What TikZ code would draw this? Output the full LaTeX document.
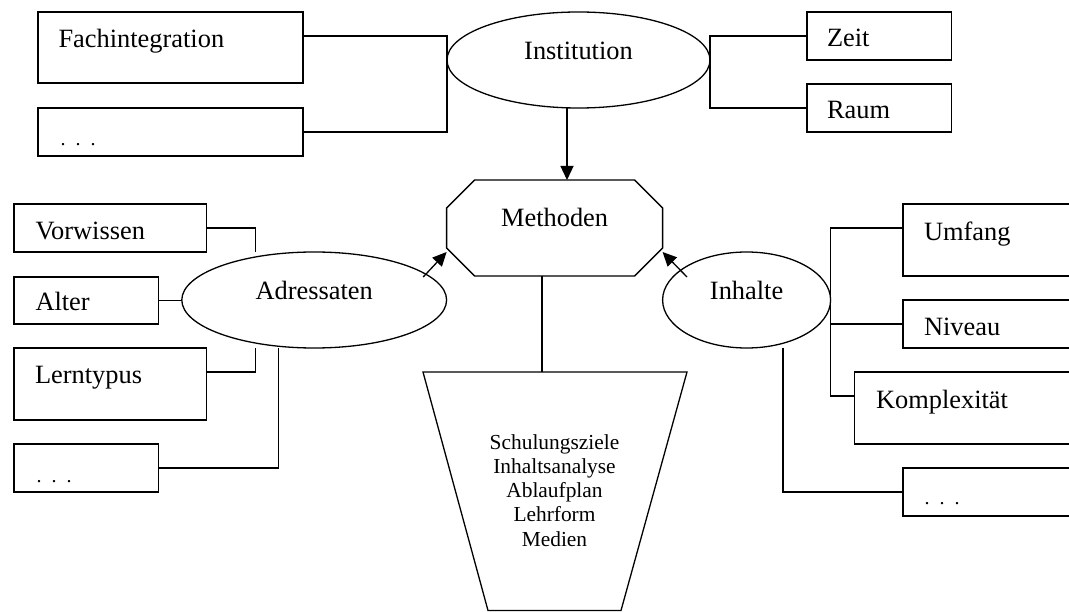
\documentclass[tikz,border=0pt]{standalone}
\usepackage{fontspec}
\setmainfont{Liberation Serif}
\usetikzlibrary{arrows.meta,shapes.geometric,calc}
\begin{document}
\begin{tikzpicture}[x=1pt,y=-1pt,
  line width=1.3pt,
  font=\fontsize{26.4}{32}\selectfont,
  every node/.style={outer sep=0pt, inner sep=0pt},
  box/.style={draw, rectangle, align=left, anchor=base west},
  oval/.style={draw, ellipse},
  arr/.style={-{Triangle[length=14pt,width=13pt]}},
  dotsfont/.style={font=\fontsize{20}{24}\selectfont},
  smallfont/.style={font=\fontsize{21.4}{24.3}\selectfont}
]
\useasboundingbox (0,0) rectangle (1069,612);

% boxes
\node[box, inner xsep=20.5pt, text width=224pt, text height=36pt, text depth=35pt] (fach) at (38,48) {Fachintegration};
\node[box, dotsfont, inner xsep=22.6pt, text width=219.8pt, text height=38pt, text depth=10pt] (dots1) at (38,146) {. . .};
\node[box, inner xsep=20pt, text width=104.5pt, text height=35pt, text depth=13pt] (zeit) at (807,47) {Zeit};
\node[box, inner xsep=20pt, text width=104.5pt, text height=34.5pt, text depth=13.5pt] (raum) at (807,118.5) {Raum};
\node[box, inner xsep=21.5pt, text width=149.6pt, text height=35.5pt, text depth=12.5pt] (vorw) at (14,239.5) {Vorwissen};
\node[box, inner xsep=21.5pt, text width=101.7pt, text height=34pt, text depth=13pt] (alter) at (14,311) {Alter};
\node[box, inner xsep=21pt, text width=150.6pt, text height=36pt, text depth=36pt] (lern) at (14,384) {Lerntypus};
\node[box, dotsfont, inner xsep=22.6pt, text width=99.5pt, text height=38pt, text depth=10pt] (dots2) at (14,482) {. . .};
\node[box, inner xsep=21pt, text width=138pt, text height=37pt, text depth=35pt] (umf) at (903,241) {Umfang};
\node[box, inner xsep=21pt, text width=138pt, text height=36pt, text depth=12pt] (niv) at (903,336) {Niveau};
\node[box, inner xsep=21.3pt, text width=185.7pt, text height=37pt, text depth=35pt] (kompl) at (854.7,409) {Komplexität};
\node[box, dotsfont, inner xsep=21.6pt, text width=136.8pt, text height=36pt, text depth=12pt] (dots3) at (903,504) {. . .};

% ellipses
\node[oval, minimum width=263pt, minimum height=96pt, text height=10pt, text depth=10pt] (inst) at (578.5,60) {Institution};
\node[oval, minimum width=264.8pt, minimum height=96pt, text height=10pt, text depth=11pt] (adr) at (314.2,300) {Adressaten\hspace{39pt}};
\node[oval, minimum width=168pt, minimum height=96pt, text height=10pt, text depth=11pt] (inh) at (746.6,300) {Inhalte\hspace{16pt}};

% Methoden (octagon)
\node[minimum width=216pt, minimum height=96pt, text height=10pt, text depth=12pt] (meth) at (554.6,228) {Methoden};
\draw ([xshift=28pt]meth.north west) -- ([xshift=-28pt]meth.north east)
  -- ([yshift=-28pt]meth.north east) -- ([yshift=28pt]meth.south east)
  -- ([xshift=-28pt]meth.south east) -- ([xshift=28pt]meth.south west)
  -- ([yshift=28pt]meth.south west) -- ([yshift=-28pt]meth.north west) -- cycle;

% trapezoid
\coordinate (tTL) at (423,372);
\coordinate (tTR) at (687,372);
\coordinate (tBR) at (621,610.5);
\coordinate (tBL) at (488,610.5);
\coordinate (ttop) at (542,372);
\draw (tTL) -- (tTR) -- (tBR) -- (tBL) -- cycle;
\node[smallfont, align=center] (ziele) at (554.5,490.3) {Schulungsziele\\Inhaltsanalyse\\Ablaufplan\\Lehrform\\Medien};

% connectors
\draw ([yshift=-24pt]fach.north east) -| (inst.west) |- (dots1.east);
\draw (zeit.west) -| (inst.east) |- (raum.west);
\draw[arr] ([xshift=12.4pt]meth.north |- inst.south) -- ([xshift=12.4pt]meth.north);

\draw (vorw.east) -| ([xshift=-59pt]adr.north);
\draw (alter.east) -- (alter.east -| adr.west);
\draw ([yshift=-24pt]lern.north east) -| ([xshift=-59pt]adr.south);
\draw (dots2.east) -| ([xshift=-36pt]adr.south);
\draw[arr] ([xshift=109pt,yshift=23pt]adr.center) -- ([yshift=-24pt]meth.west);

\draw ([yshift=-24pt]umf.north west) -| (inh.east) |- (niv.west);
\draw (inh.east) |- ([yshift=-24pt]kompl.north west);
\draw ([xshift=36.4pt]inh.south) |- (dots3.west);
\draw[arr] ([xshift=-59.6pt,yshift=23pt]inh.center) -- ([yshift=-24pt]meth.east);

\draw (ttop |- meth.south) -- (ttop);
\end{tikzpicture}
\end{document}
